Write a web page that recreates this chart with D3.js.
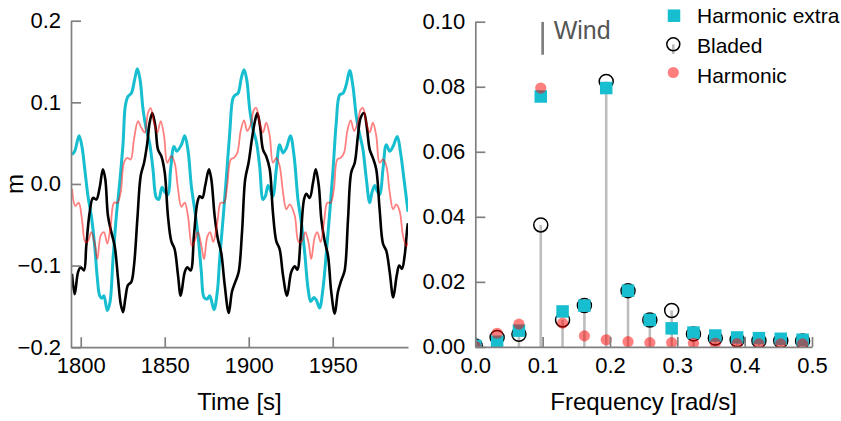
<!DOCTYPE html>
<html>
<head>
<meta charset="utf-8">
<script src="https://cdn.jsdelivr.net/npm/d3@7"></script>
<style>
  html, body { margin: 0; padding: 0; background: #fff; }
  svg { display: block; font-family: "Liberation Sans", Arial, sans-serif; }
</style>
</head>
<body>
<svg id="chart" width="841" height="421"></svg>
<script>
// ---------- Data: time series (time [s], displacement [m]) ----------
const harmonicExtraSeries = [[1794.8,0.036],[1796.4,0.040],[1799.0,0.059],[1800.7,0.046],[1802.4,0.018],[1804.3,-0.015],[1806.3,-0.039],[1808.3,-0.076],[1809.9,-0.116],[1811.3,-0.137],[1812.7,-0.140],[1813.8,-0.137],[1815.8,-0.155],[1817.4,-0.145],[1819.2,-0.092],[1821.2,-0.039],[1823.2,0.002],[1825.2,0.050],[1826.5,0.095],[1828.1,0.107],[1830.1,0.111],[1832.1,0.128],[1833.7,0.141],[1835.3,0.128],[1837.1,0.091],[1839.0,0.067],[1841.0,0.050],[1843.0,0.018],[1845.0,-0.017],[1846.4,-0.019],[1848.4,-0.004],[1850.0,-0.010],[1851.9,-0.013],[1853.5,0.018],[1855.5,0.046],[1857.1,0.040],[1859.9,0.048],[1861.9,0.059],[1863.8,0.042],[1865.8,-0.002],[1867.8,-0.031],[1869.8,-0.063],[1871.8,-0.108],[1873.4,-0.139],[1875.3,-0.141],[1876.8,-0.137],[1879.3,-0.154],[1881.3,-0.132],[1882.7,-0.092],[1884.7,-0.043],[1886.6,0.006],[1888.7,0.063],[1890.6,0.105],[1892.0,0.109],[1893.6,0.111],[1895.6,0.130],[1897.2,0.140],[1898.8,0.128],[1900.6,0.091],[1902.5,0.067],[1904.5,0.052],[1906.5,0.022],[1908.5,-0.019],[1909.9,-0.015],[1911.5,-0.002],[1913.1,-0.009],[1914.4,-0.015],[1916.4,0.018],[1918.4,0.048],[1920.4,0.038],[1922.4,0.044],[1924.8,0.059],[1927.0,0.034],[1929.3,-0.019],[1931.3,-0.047],[1933.3,-0.084],[1935.3,-0.128],[1936.9,-0.144],[1938.8,-0.139],[1940.4,-0.143],[1942.2,-0.152],[1944.2,-0.128],[1946.2,-0.084],[1948.2,-0.035],[1950.2,0.018],[1952.1,0.075],[1954.1,0.109],[1956.1,0.111],[1958.1,0.122],[1960.1,0.139],[1962.0,0.120],[1964.0,0.083],[1966.0,0.061],[1968.0,0.042],[1970.0,0.006],[1972.0,-0.023],[1973.4,-0.010],[1975.0,-0.002],[1976.5,-0.009],[1978.0,-0.013],[1979.9,0.018],[1981.9,0.048],[1983.9,0.040],[1985.9,0.046],[1988.4,0.058],[1990.4,0.038],[1992.4,0.006],[1994.4,-0.027],[1994.8,-0.034]];

const bladedSeries = [[1794.8,-0.110],[1796.4,-0.135],[1798.4,-0.108],[1800.0,-0.102],[1801.9,-0.106],[1803.3,-0.076],[1805.3,-0.035],[1807.3,-0.017],[1809.3,-0.019],[1811.3,-0.004],[1813.2,0.018],[1814.6,0.006],[1816.2,-0.039],[1818.2,-0.059],[1820.2,-0.076],[1822.2,-0.116],[1823.8,-0.147],[1825.2,-0.157],[1826.5,-0.141],[1828.1,-0.124],[1830.1,-0.120],[1831.7,-0.100],[1833.7,-0.043],[1835.7,0.010],[1837.7,0.026],[1839.6,0.050],[1841.0,0.075],[1842.6,0.087],[1844.4,0.071],[1846.0,0.042],[1848.0,0.034],[1850.0,0.014],[1851.9,-0.039],[1853.9,-0.070],[1855.9,-0.080],[1857.9,-0.112],[1859.5,-0.137],[1861.9,-0.108],[1863.4,-0.102],[1865.4,-0.106],[1867.4,-0.063],[1869.4,-0.023],[1870.8,-0.015],[1872.4,-0.017],[1874.1,-0.002],[1876.3,0.018],[1877.7,0.006],[1879.7,-0.039],[1881.6,-0.067],[1883.6,-0.084],[1885.7,-0.124],[1888.1,-0.158],[1890.0,-0.132],[1892.0,-0.120],[1894.0,-0.108],[1896.0,-0.059],[1897.9,0.006],[1899.9,0.026],[1901.9,0.055],[1903.5,0.075],[1905.1,0.087],[1906.7,0.071],[1908.5,0.042],[1910.4,0.034],[1912.5,0.018],[1914.4,-0.035],[1916.4,-0.070],[1918.4,-0.080],[1920.4,-0.112],[1922.8,-0.137],[1925.3,-0.108],[1927.4,-0.101],[1928.9,-0.105],[1930.9,-0.067],[1932.9,-0.019],[1934.3,-0.012],[1936.3,-0.017],[1938.3,0.002],[1939.9,0.018],[1941.7,-0.002],[1943.2,-0.043],[1945.2,-0.070],[1947.2,-0.088],[1949.1,-0.132],[1951.2,-0.159],[1953.1,-0.132],[1955.1,-0.118],[1957.1,-0.106],[1959.1,-0.043],[1961.0,0.014],[1963.1,0.026],[1965.0,0.059],[1966.6,0.081],[1968.6,0.087],[1970.2,0.071],[1972.0,0.042],[1973.9,0.032],[1975.9,0.018],[1977.9,-0.031],[1979.9,-0.073],[1981.9,-0.082],[1983.9,-0.108],[1986.0,-0.139],[1988.1,-0.112],[1989.6,-0.100],[1991.2,-0.104],[1992.8,-0.088],[1994.4,-0.053],[1994.8,-0.048]];

const harmonicSeries = [[1794.8,-0.006],[1796.8,-0.027],[1798.8,-0.023],[1800.7,-0.043],[1802.7,-0.071],[1804.3,-0.070],[1806.3,-0.059],[1808.3,-0.073],[1809.9,-0.092],[1811.9,-0.063],[1813.8,-0.059],[1815.8,-0.073],[1817.8,-0.051],[1819.8,-0.023],[1821.8,-0.023],[1823.8,-0.010],[1825.7,0.026],[1827.7,0.032],[1829.7,0.030],[1831.7,0.055],[1834.1,0.077],[1836.0,0.069],[1838.1,0.063],[1840.0,0.087],[1841.6,0.093],[1843.6,0.075],[1845.6,0.063],[1847.6,0.077],[1849.6,0.059],[1851.5,0.026],[1853.9,0.034],[1855.9,0.026],[1857.9,-0.006],[1859.9,-0.028],[1861.9,-0.023],[1863.8,-0.039],[1866.2,-0.076],[1867.8,-0.070],[1869.8,-0.059],[1871.8,-0.076],[1873.4,-0.092],[1875.3,-0.065],[1877.0,-0.059],[1878.9,-0.071],[1881.3,-0.047],[1883.3,-0.023],[1885.3,-0.023],[1887.2,-0.002],[1889.3,0.030],[1891.2,0.032],[1893.2,0.038],[1895.2,0.065],[1897.2,0.078],[1899.1,0.065],[1901.2,0.073],[1903.1,0.091],[1904.5,0.093],[1906.5,0.075],[1908.5,0.063],[1910.4,0.075],[1912.5,0.059],[1914.4,0.026],[1916.4,0.032],[1918.4,0.022],[1920.4,-0.010],[1922.4,-0.031],[1924.4,-0.025],[1927.4,-0.039],[1929.7,-0.071],[1931.7,-0.070],[1933.7,-0.059],[1935.7,-0.073],[1937.2,-0.092],[1939.3,-0.065],[1940.8,-0.059],[1942.8,-0.071],[1944.8,-0.047],[1946.8,-0.023],[1948.8,-0.023],[1950.7,-0.006],[1952.7,0.030],[1954.7,0.032],[1956.7,0.038],[1958.7,0.065],[1960.7,0.078],[1962.7,0.065],[1964.6,0.073],[1966.6,0.091],[1968.0,0.093],[1970.0,0.075],[1972.0,0.063],[1973.9,0.075],[1975.9,0.059],[1977.9,0.026],[1979.9,0.030],[1981.9,0.022],[1983.9,-0.010],[1985.9,-0.031],[1987.8,-0.025],[1989.8,-0.033],[1991.8,-0.063],[1993.8,-0.076],[1994.8,-0.072]];

// ---------- Data: spectrum (frequency [rad/s], amplitude) ----------
const frequencies = [0, 0.0324, 0.0648, 0.0972, 0.1296, 0.1620, 0.1944, 0.2268, 0.2592, 0.2916, 0.3240, 0.3564, 0.3888, 0.4212, 0.4536, 0.4860];
const bladedAmp        = [0.0003, 0.0029, 0.0039, 0.0375, 0.0083, 0.0127, 0.0816, 0.0173, 0.0083, 0.0112, 0.0040, 0.0027, 0.0022, 0.0019, 0.0019, 0.0018];
const harmonicExtraAmp = [0.0003, 0.0016, 0.0050, 0.0770, 0.0109, 0.0127, 0.0796, 0.0173, 0.0083, 0.0057, 0.0044, 0.0035, 0.0029, 0.0027, 0.0025, 0.0022];
const harmonicAmp      = [0.0002, 0.0042, 0.0070, 0.0796, 0.0073, 0.0034, 0.0022, 0.0016, 0.0013, 0.0013, 0.0011, 0.0011, 0.0010, 0.0009, 0.0009, 0.0009];
const windFrequency = 0.1;

// ---------- Tick labels ----------
const timeTicks = [1800, 1850, 1900, 1950];
const mTicks = [-0.2, -0.1, 0.0, 0.1, 0.2];
const freqTicks = [0.0, 0.1, 0.2, 0.3, 0.4, 0.5];
const ampTicks = [0.00, 0.02, 0.04, 0.06, 0.08, 0.10];
const legendLabels = ["Harmonic extra", "Bladed", "Harmonic"];

// ---------- Styles ----------
const CYAN = "#17becf";
const RED = "rgba(255,0,0,0.5)";
const SPINE = "#808080";
const STEM = "#bdbdbd";
const TICK_FONT = 22;
const LABEL_FONT = 24;

const svg = d3.select("#chart");
const defs = svg.append("defs");

function styleAxis(g) {
  g.selectAll(".domain").attr("stroke", SPINE).attr("stroke-width", 1.7);
  g.selectAll(".tick line").attr("stroke", SPINE).attr("stroke-width", 1.7);
  g.selectAll(".tick text").attr("fill", "#000").attr("font-size", TICK_FONT)
    .attr("font-family", "Liberation Sans, Arial, sans-serif");
}

// ===================== LEFT: time series =====================
const xT = d3.scaleLinear().domain([1794.2, 1994.8]).range([71, 408]);
const yM = d3.scaleLinear().domain([-0.2, 0.2]).range([347.2, 20.7]);

defs.append("clipPath").attr("id", "clipL").append("rect")
  .attr("x", 71).attr("y", 20.7).attr("width", 408 - 71).attr("height", 347.2 - 20.7);

const gL = svg.append("g");
const lineGen = d3.line().x(d => xT(d[0])).y(d => yM(d[1])).curve(d3.curveCatmullRom.alpha(0.5));
const plotL = gL.append("g").attr("clip-path", "url(#clipL)");
plotL.append("path").datum(harmonicExtraSeries).attr("d", lineGen)
  .attr("fill", "none").attr("stroke", CYAN).attr("stroke-width", 3).attr("stroke-linejoin", "round");
plotL.append("path").datum(bladedSeries).attr("d", lineGen)
  .attr("fill", "none").attr("stroke", "#000").attr("stroke-width", 2.6).attr("stroke-linejoin", "round");
plotL.append("path").datum(harmonicSeries).attr("d", lineGen)
  .attr("fill", "none").attr("stroke", RED).attr("stroke-width", 1.8).attr("stroke-linejoin", "round");

gL.append("g").attr("transform", "translate(0,347.2)")
  .call(d3.axisBottom(xT).tickValues(timeTicks).tickFormat(d3.format("d"))
    .tickSizeInner(-10).tickSizeOuter(0).tickPadding(10))
  .call(styleAxis);
gL.append("g").attr("transform", "translate(71,0)")
  .call(d3.axisLeft(yM).tickValues(mTicks).tickFormat(d3.format(".1f"))
    .tickSizeInner(-10).tickSizeOuter(0).tickPadding(10))
  .call(styleAxis);

gL.append("text").attr("x", (71 + 408) / 2).attr("y", 410).attr("text-anchor", "middle")
  .attr("font-size", LABEL_FONT).text("Time [s]");
gL.append("text").attr("transform", "translate(23,184) rotate(-90)").attr("text-anchor", "middle")
  .attr("font-size", LABEL_FONT).text("m");

// ===================== RIGHT: spectrum =====================
const xF = d3.scaleLinear().domain([0, 0.5]).range([475.3, 812]);
const yA = d3.scaleLinear().domain([0, 0.1]).range([346.9, 21.7]);

defs.append("clipPath").attr("id", "clipR").append("rect")
  .attr("x", 475.3).attr("y", 21.7).attr("width", 812 - 475.3).attr("height", 346.9 - 21.7);

const gR = svg.append("g");
const plotR = gR.append("g").attr("clip-path", "url(#clipR)");

// Wind marker
plotR.append("line").attr("x1", xF(windFrequency)).attr("x2", xF(windFrequency))
  .attr("y1", yA(0.1)).attr("y2", yA(0.0898))
  .attr("stroke", SPINE).attr("stroke-width", 2.7);

// Bladed stems
plotR.selectAll("line.stem").data(frequencies).join("line").attr("class", "stem")
  .attr("x1", d => xF(d)).attr("x2", d => xF(d))
  .attr("y1", yA(0)).attr("y2", (d, i) => yA(bladedAmp[i]))
  .attr("stroke", STEM).attr("stroke-width", 2.6);

// Bladed circles
plotR.selectAll("circle.bladed").data(frequencies).join("circle").attr("class", "bladed")
  .attr("cx", d => xF(d)).attr("cy", (d, i) => yA(bladedAmp[i])).attr("r", 7)
  .attr("fill", "none").attr("stroke", "#000").attr("stroke-width", 1.5);

// Harmonic extra squares
const SQ = 12.5;
plotR.selectAll("rect.hx").data(frequencies).join("rect").attr("class", "hx")
  .attr("x", d => xF(d) - SQ / 2).attr("y", (d, i) => yA(harmonicExtraAmp[i]) - SQ / 2)
  .attr("width", SQ).attr("height", SQ).attr("fill", CYAN);

// Harmonic circles
plotR.selectAll("circle.h").data(frequencies).join("circle").attr("class", "h")
  .attr("cx", d => xF(d)).attr("cy", (d, i) => yA(harmonicAmp[i])).attr("r", 5.6)
  .attr("fill", RED);

gR.append("g").attr("transform", "translate(0,346.9)")
  .call(d3.axisBottom(xF).tickValues(freqTicks).tickFormat(d3.format(".1f"))
    .tickSizeInner(-10).tickSizeOuter(0).tickPadding(10))
  .call(styleAxis);
gR.append("g").attr("transform", "translate(475.3,0)")
  .call(d3.axisLeft(yA).tickValues(ampTicks).tickFormat(d3.format(".2f"))
    .tickSizeInner(-10).tickSizeOuter(0).tickPadding(10))
  .call(styleAxis);

gR.append("text").attr("x", (475.3 + 812) / 2).attr("y", 410).attr("text-anchor", "middle")
  .attr("font-size", LABEL_FONT).text("Frequency [rad/s]");

// Wind label
gR.append("text").attr("x", xF(windFrequency) + 11).attr("y", 39)
  .attr("font-size", 25).attr("fill", "#555").text("Wind");

// Legend
const lg = svg.append("g");
const lx = 674, tx = 697;
lg.append("rect").attr("x", lx - SQ / 2).attr("y", 15.7 - SQ / 2).attr("width", SQ).attr("height", SQ).attr("fill", CYAN);
lg.append("line").attr("x1", lx - 0.7).attr("x2", lx - 0.7).attr("y1", 44.3).attr("y2", 54).attr("stroke", STEM).attr("stroke-width", 2.6);
lg.append("circle").attr("cx", lx - 0.7).attr("cy", 44.3).attr("r", 6.5).attr("fill", "none").attr("stroke", "#000").attr("stroke-width", 1.5);
lg.append("circle").attr("cx", lx - 0.7).attr("cy", 72.5).attr("r", 5.6).attr("fill", RED);
const legendY = [23.3, 53.3, 83.3];
legendLabels.forEach((t, i) => {
  lg.append("text").attr("x", tx).attr("y", legendY[i]).attr("font-size", 21).attr("fill", "#000").text(t);
});
</script>
</body>
</html>
